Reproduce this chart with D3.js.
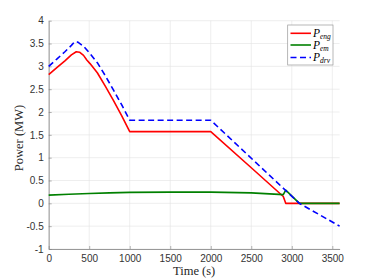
<!DOCTYPE html>
<html><head><meta charset="utf-8">
<script src="https://cdn.jsdelivr.net/npm/d3@7"></script>
<style>body{margin:0;background:#fff}svg{display:block}</style>
</head><body>
<script>
const timeEng = [0,100,200,280,340,380,430,470,510,600,700,800,900,1000,2000,2500,2895,2925,3590];
const pEng    = [2.82,2.97,3.12,3.25,3.32,3.31,3.24,3.14,3.06,2.86,2.56,2.25,1.92,1.57,1.57,0.78,0.15,0,0];
const timeEm  = [0,250,500,750,1000,1500,2000,2500,2895,2925,3094,3590];
const pEm     = [0.18,0.20,0.215,0.23,0.24,0.245,0.245,0.23,0.19,0.29,0,0];
const timeDrv = [0,100,200,280,320,360,430,510,600,700,800,900,1000,2000,3094,3590];
const pDrv    = [3.00,3.16,3.32,3.46,3.54,3.53,3.44,3.28,3.08,2.79,2.48,2.16,1.82,1.82,0,-0.50];
const xTicks = [0,500,1000,1500,2000,2500,3000,3500];
const yTicks = [-1,-0.5,0,0.5,1,1.5,2,2.5,3,3.5,4];
const legendNames = [["P","eng"],["P","em"],["P","drv"]];

const W=374,H=280;
const svg=d3.select("body").append("svg").attr("width",W).attr("height",H);
const x=d3.scaleLinear().domain([0,3590]).range([48.7,339.6]);
const y=d3.scaleLinear().domain([-1,4]).range([249,20.7]);

// grid
const g=svg.append("g");
g.selectAll(".gx").data(xTicks).join("line")
 .attr("x1",d=>x(d)).attr("x2",d=>x(d)).attr("y1",y(-1)).attr("y2",y(4))
 .attr("stroke","#e3e3e3").attr("stroke-width",0.6);
g.selectAll(".gy").data(yTicks).join("line")
 .attr("x1",x(0)).attr("x2",x(3590)).attr("y1",d=>y(d)).attr("y2",d=>y(d))
 .attr("stroke","#e3e3e3").attr("stroke-width",0.6);

// axes
const xAxis=d3.axisBottom(x).tickValues(xTicks).tickSizeInner(-3).tickSizeOuter(0).tickPadding(6).tickFormat(d3.format("d"));
const yAxis=d3.axisLeft(y).tickValues(yTicks).tickSizeInner(-3).tickSizeOuter(0).tickPadding(5).tickFormat(d=>String(d));
const ax=svg.append("g").attr("transform",`translate(0,${y(-1)})`).call(xAxis);
const ay=svg.append("g").attr("transform",`translate(${x(0)},0)`).call(yAxis);
[ax,ay].forEach(a=>{
  a.select(".domain").attr("stroke","#808080").attr("stroke-width",0.8);
  a.selectAll(".tick line").attr("stroke","#808080").attr("stroke-width",0.6);
  a.selectAll("text").attr("font-family","Liberation Sans, Arial, sans-serif").attr("font-size","10px").attr("fill","#333");
});

// lines
const series=[
  {t:timeEng,v:pEng,c:"#ff0000",dash:null},
  {t:timeEm,v:pEm,c:"#008000",dash:null},
  {t:timeDrv,v:pDrv,c:"#0000ff",dash:"6,3.5"}
];
const line=d3.line().x(d=>x(d[0])).y(d=>y(d[1]));
series.forEach(s=>{
  svg.append("path").datum(s.t.map((t,i)=>[t,s.v[i]]))
   .attr("d",line).attr("fill","none").attr("stroke",s.c).attr("stroke-width",1.6)
   .attr("stroke-dasharray",s.dash).attr("stroke-linejoin","round");
});

// labels
svg.append("text").attr("x",(x(0)+x(3590))/2).attr("y",275).attr("text-anchor","middle")
 .attr("font-family","Liberation Serif, serif").attr("font-size","12.5px").attr("fill","#262626").text("Time (s)");
svg.append("text").attr("transform","translate(23,138) rotate(-90)").attr("text-anchor","middle")
 .attr("font-family","Liberation Serif, serif").attr("font-size","12.5px").attr("fill","#262626").text("Power (MW)");

// legend
const lg=svg.append("g");
lg.append("rect").attr("x",287.7).attr("y",25).attr("width",45.3).attr("height",40)
 .attr("fill","#fff").attr("stroke","#999").attr("stroke-width",0.7);
const rowsY=[33.3,45,57.5];
legendNames.forEach((n,i)=>{
  lg.append("line").attr("x1",290.5).attr("x2",311).attr("y1",rowsY[i]).attr("y2",rowsY[i])
   .attr("stroke",series[i].c).attr("stroke-width",1.6).attr("stroke-dasharray",series[i].dash);
  const t=lg.append("text").attr("x",313).attr("y",rowsY[i]+3.5)
   .attr("font-family","Liberation Serif, serif").attr("font-style","italic").attr("font-size","11.5px").attr("fill","#000");
  t.append("tspan").text(n[0]);
  t.append("tspan").attr("font-size","7.5px").attr("dy",2).text(n[1]);
});
</script>
</body></html>
